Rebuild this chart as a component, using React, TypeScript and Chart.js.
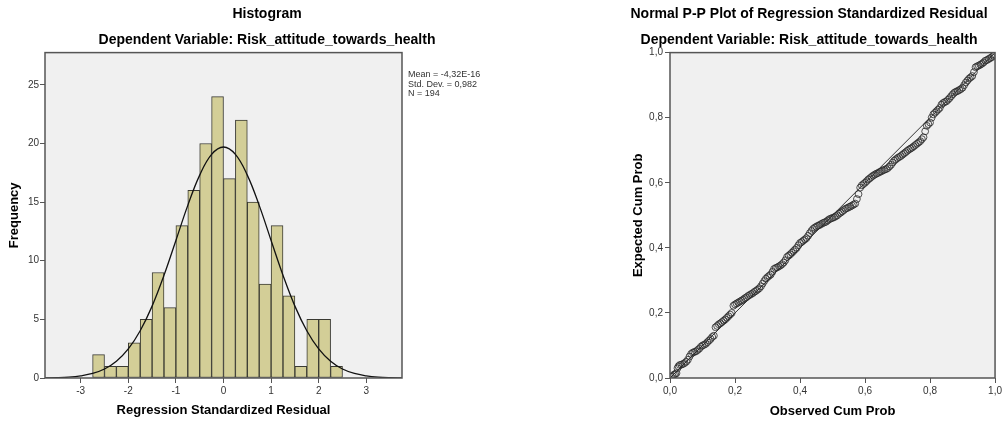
import React, { useEffect, useRef } from 'react';
import { Chart, registerables } from 'chart.js';

Chart.register(...registerables);

// ---------- Histogram data ----------
const binMidpoints = [
  -2.625, -2.375, -2.125, -1.875, -1.625, -1.375, -1.125, -0.875, -0.625, -0.375, -0.125,
  0.125, 0.375, 0.625, 0.875, 1.125, 1.375, 1.625, 1.875, 2.125, 2.375,
];
const binCounts = [2, 1, 1, 3, 5, 9, 6, 13, 16, 20, 24, 17, 22, 15, 8, 13, 7, 1, 5, 5, 1];

// normal curve
const curveX = [
  -3.75, -3.5, -3.25, -3, -2.75, -2.5, -2.25, -2, -1.75, -1.5, -1.25, -1, -0.75, -0.5, -0.25, 0,
  0.25, 0.5, 0.75, 1, 1.25, 1.5, 1.75, 2, 2.25, 2.5, 2.75, 3, 3.25, 3.5, 3.75,
];
const curveY = [
  0.01, 0.03, 0.08, 0.19, 0.39, 0.77, 1.43, 2.48, 4.03, 6.13, 8.76, 11.73, 14.72, 17.3, 19.07, 19.7,
  19.07, 17.3, 14.72, 11.73, 8.76, 6.13, 4.03, 2.48, 1.43, 0.77, 0.39, 0.19, 0.08, 0.03, 0.01,
];
const statsLines = ['Mean = -4,32E-16', 'Std. Dev. = 0,982', 'N = 194'];

const histTitle = 'Histogram';
const ppTitle = 'Normal P-P Plot of Regression Standardized Residual';
const subTitle = 'Dependent Variable: Risk_attitude_towards_health';
const histXTitle = 'Regression Standardized Residual';
const histYTitle = 'Frequency';
const ppXTitle = 'Observed Cum Prob';
const ppYTitle = 'Expected Cum Prob';

// ---------- P-P plot data (observed cum prob, expected cum prob) ----------
const ppObserved = [
  0.003, 0.008, 0.012, 0.016, 0.02, 0.023, 0.026, 0.03, 0.035, 0.04, 0.045, 0.05, 0.055, 0.06, 0.065,
  0.07, 0.075, 0.08, 0.085, 0.09, 0.095, 0.1, 0.105, 0.11, 0.115, 0.12, 0.125, 0.13, 0.135, 0.14,
  0.145, 0.15, 0.155, 0.16, 0.165, 0.17, 0.175, 0.18, 0.185, 0.19, 0.195, 0.2, 0.205, 0.21, 0.215,
  0.22, 0.225, 0.23, 0.235, 0.24, 0.245, 0.25, 0.255, 0.26, 0.265, 0.27, 0.275, 0.28, 0.285, 0.29,
  0.295, 0.3, 0.305, 0.31, 0.315, 0.32, 0.325, 0.33, 0.335, 0.34, 0.345, 0.35, 0.355, 0.36, 0.365,
  0.37, 0.375, 0.38, 0.385, 0.39, 0.395, 0.4, 0.405, 0.41, 0.415, 0.42, 0.425, 0.43, 0.435, 0.44,
  0.445, 0.45, 0.455, 0.46, 0.465, 0.47, 0.475, 0.48, 0.485, 0.49, 0.495, 0.5, 0.505, 0.51, 0.515,
  0.52, 0.525, 0.53, 0.535, 0.54, 0.545, 0.55, 0.555, 0.56, 0.565, 0.57, 0.575, 0.58, 0.585, 0.59,
  0.595, 0.6, 0.605, 0.61, 0.615, 0.62, 0.625, 0.63, 0.635, 0.64, 0.645, 0.65, 0.655, 0.66, 0.665,
  0.67, 0.675, 0.68, 0.685, 0.69, 0.695, 0.7, 0.705, 0.71, 0.715, 0.72, 0.725, 0.73, 0.735, 0.74,
  0.745, 0.75, 0.755, 0.76, 0.765, 0.77, 0.775, 0.78, 0.785, 0.79, 0.795, 0.8, 0.805, 0.81, 0.815,
  0.82, 0.825, 0.83, 0.835, 0.84, 0.845, 0.85, 0.855, 0.86, 0.865, 0.87, 0.875, 0.88, 0.885, 0.89,
  0.895, 0.9, 0.905, 0.91, 0.915, 0.92, 0.925, 0.93, 0.935, 0.94, 0.945, 0.95, 0.955, 0.96, 0.965,
  0.97, 0.975, 0.98, 0.985, 0.99, 0.995, 0.998,
];
const ppExpected = [
  0.004, 0.006, 0.01, 0.012, 0.015, 0.03, 0.036, 0.04, 0.041, 0.043, 0.046, 0.05, 0.056, 0.066, 0.074,
  0.078, 0.08, 0.082, 0.086, 0.09, 0.096, 0.1, 0.102, 0.105, 0.11, 0.115, 0.12, 0.126, 0.13, 0.156,
  0.16, 0.165, 0.168, 0.172, 0.176, 0.18, 0.185, 0.19, 0.195, 0.2, 0.222, 0.226, 0.229, 0.232, 0.235,
  0.238, 0.241, 0.245, 0.248, 0.252, 0.255, 0.258, 0.261, 0.265, 0.268, 0.272, 0.276, 0.282, 0.29, 0.298,
  0.305, 0.31, 0.314, 0.318, 0.326, 0.335, 0.338, 0.34, 0.343, 0.346, 0.35, 0.355, 0.362, 0.372, 0.376,
  0.38, 0.385, 0.39, 0.395, 0.4, 0.408, 0.415, 0.418, 0.422, 0.426, 0.43, 0.437, 0.445, 0.452, 0.458,
  0.462, 0.465, 0.468, 0.47, 0.473, 0.476, 0.478, 0.48, 0.484, 0.488, 0.49, 0.492, 0.494, 0.497, 0.5,
  0.505, 0.508, 0.512, 0.516, 0.52, 0.522, 0.525, 0.527, 0.53, 0.533, 0.536, 0.55, 0.565, 0.585, 0.592,
  0.596, 0.6, 0.605, 0.61, 0.614, 0.618, 0.622, 0.625, 0.628, 0.63, 0.633, 0.635, 0.638, 0.64, 0.642,
  0.645, 0.65, 0.655, 0.662, 0.668, 0.672, 0.676, 0.679, 0.682, 0.686, 0.69, 0.694, 0.698, 0.702, 0.705,
  0.708, 0.712, 0.716, 0.72, 0.724, 0.728, 0.734, 0.74, 0.758, 0.775, 0.78, 0.785, 0.8, 0.81, 0.815,
  0.82, 0.825, 0.83, 0.84, 0.845, 0.848, 0.85, 0.855, 0.86, 0.866, 0.872, 0.877, 0.88, 0.882, 0.885,
  0.888, 0.892, 0.9, 0.908, 0.914, 0.92, 0.924, 0.928, 0.94, 0.955, 0.958, 0.96, 0.963, 0.966, 0.97,
  0.975, 0.977, 0.98, 0.983, 0.986, 0.99, 0.994,
];
const diagonal = [0, 1];

const FONT = "'Liberation Sans', Arial, sans-serif";

const plotFrame = {
  id: 'plotFrame',
  beforeDraw(chart: any) {
    const { ctx, chartArea } = chart;
    const { left, top, right, bottom } = chartArea;
    ctx.save();
    ctx.fillStyle = '#F0F0F0';
    ctx.fillRect(left, top, right - left, bottom - top);
    ctx.restore();
  },
  afterDraw(chart: any) {
    const { ctx, chartArea } = chart;
    const { left, top, right, bottom } = chartArea;
    ctx.save();
    ctx.strokeStyle = '#555555';
    ctx.lineWidth = 1.5;
    ctx.strokeRect(left, top, right - left, bottom - top);
    ctx.restore();
  },
};

const statsPlugin = {
  id: 'statsText',
  afterDraw(chart: any) {
    const { ctx, chartArea } = chart;
    ctx.save();
    ctx.fillStyle = '#333333';
    ctx.font = `9px ${FONT}`;
    ctx.textAlign = 'left';
    ctx.textBaseline = 'middle';
    statsLines.forEach((t, i) => {
      ctx.fillText(t, chartArea.right + 6, 75 + i * 9.5);
    });
    ctx.restore();
  },
};

const tickFont = { family: FONT, size: 10 };
const titleFont = { family: FONT, size: 14, weight: 'bold' as const };
const axisTitleFont = { family: FONT, size: 13, weight: 'bold' as const };

const spacerAxis = (w: number) => ({
  type: 'linear',
  position: 'right',
  display: true,
  ticks: { display: false },
  grid: { display: false, drawTicks: false },
  border: { display: false },
  title: { display: false },
  afterFit: (s: any) => {
    s.width = w;
  },
});

function HistogramChart() {
  const ref = useRef<HTMLCanvasElement>(null);
  useEffect(() => {
    const chart = new Chart(ref.current!, {
      type: 'bar',
      data: {
        datasets: [
          {
            type: 'line',
            data: curveX.map((x, i) => ({ x, y: curveY[i] })),
            borderColor: '#111111',
            borderWidth: 1.3,
            pointRadius: 0,
            tension: 0.4,
            fill: false,
            order: 1,
          } as any,
          {
            type: 'bar',
            data: binMidpoints.map((x, i) => ({ x, y: binCounts[i] })),
            backgroundColor: '#D3CE97',
            borderColor: '#3a3a32',
            borderWidth: 1,
            borderSkipped: false,
            barPercentage: 1,
            categoryPercentage: 1,
            order: 2,
          } as any,
        ],
      },
      options: {
        responsive: false,
        animation: false,
        devicePixelRatio: 1,
        layout: { padding: 0 },
        plugins: {
          legend: { display: false },
          tooltip: { enabled: false },
          title: {
            display: true,
            text: histTitle,
            color: '#000',
            font: titleFont,
            padding: { top: 5.6, bottom: 9.8 },
          },
          subtitle: {
            display: true,
            text: subTitle,
            color: '#000',
            font: titleFont,
            padding: { top: 0, bottom: 3.6 },
          },
        },
        scales: {
          x: {
            type: 'linear',
            min: -3.75,
            max: 3.75,
            offset: false,
            ticks: { stepSize: 1, includeBounds: false, font: tickFont, color: '#333', padding: 2 },
            grid: { display: true, offset: false, drawOnChartArea: false, drawTicks: true, tickLength: 5, color: '#555' },
            border: { display: false },
            title: { display: true, text: histXTitle, color: '#000', font: axisTitleFont, padding: { top: 0, bottom: 5.2 } },
            afterFit: (s: any) => {
              s.height = 45;
            },
          },
          y: {
            type: 'linear',
            min: 0,
            max: 27.75,
            ticks: { stepSize: 5, includeBounds: false, font: tickFont, color: '#333', padding: 1 },
            grid: { display: true, drawOnChartArea: false, drawTicks: true, tickLength: 5, color: '#555' },
            border: { display: false },
            title: { display: true, text: histYTitle, color: '#000', font: axisTitleFont, padding: { top: 6.2, bottom: 0 } },
            afterFit: (s: any) => {
              s.width = 45;
            },
          },
          spacer: spacerAxis(132),
        },
      } as any,
      plugins: [plotFrame, statsPlugin],
    });
    return () => chart.destroy();
  }, []);
  return (
    <canvas
      ref={ref}
      width={534}
      height={423}
      style={{ position: 'absolute', left: 0, top: 0, width: 534, height: 423 }}
    />
  );
}

function PPChart() {
  const ref = useRef<HTMLCanvasElement>(null);
  useEffect(() => {
    const fmt = (v: any) => Number(v).toFixed(1).replace('.', ',');
    const chart = new Chart(ref.current!, {
      type: 'scatter',
      data: {
        datasets: [
          {
            type: 'line',
            data: diagonal.map((v) => ({ x: v, y: v })),
            borderColor: '#333333',
            borderWidth: 1,
            pointRadius: 0,
            fill: false,
            order: 2,
          } as any,
          {
            type: 'scatter',
            data: ppObserved.map((x, i) => ({ x, y: ppExpected[i] })),
            pointStyle: 'circle',
            pointRadius: 3.4,
            borderColor: 'rgba(40,40,40,0.8)',
            backgroundColor: 'rgba(0,0,0,0)',
            borderWidth: 1,
            order: 1,
          } as any,
        ],
      },
      options: {
        responsive: false,
        animation: false,
        devicePixelRatio: 1,
        layout: { padding: 0 },
        plugins: {
          legend: { display: false },
          tooltip: { enabled: false },
          title: {
            display: true,
            text: ppTitle,
            color: '#000',
            font: titleFont,
            padding: { top: 5.6, bottom: 9.8 },
          },
          subtitle: {
            display: true,
            text: subTitle,
            color: '#000',
            font: titleFont,
            padding: { top: 0, bottom: 3.6 },
          },
        },
        scales: {
          x: {
            type: 'linear',
            min: 0,
            max: 1,
            ticks: { stepSize: 0.2, includeBounds: false, font: tickFont, color: '#333', padding: 2, callback: fmt },
            grid: { display: true, drawOnChartArea: false, drawTicks: true, tickLength: 5, color: '#555' },
            border: { display: false },
            title: { display: true, text: ppXTitle, color: '#000', font: axisTitleFont, padding: { top: 0, bottom: 4.2 } },
            afterFit: (s: any) => {
              s.height = 45;
            },
          },
          y: {
            type: 'linear',
            min: 0,
            max: 1,
            ticks: { stepSize: 0.2, includeBounds: false, font: tickFont, color: '#333', padding: 2, callback: fmt },
            grid: { display: true, drawOnChartArea: false, drawTicks: true, tickLength: 5, color: '#555' },
            border: { display: false },
            title: { display: true, text: ppYTitle, color: '#000', font: axisTitleFont, padding: { top: 16.2, bottom: 0 } },
            afterFit: (s: any) => {
              s.width = 56;
            },
          },
          spacer: spacerAxis(8),
        },
      } as any,
      plugins: [plotFrame],
    });
    return () => chart.destroy();
  }, []);
  return (
    <canvas
      ref={ref}
      width={390}
      height={423}
      style={{ position: 'absolute', left: 614, top: 0, width: 390, height: 423 }}
    />
  );
}

export default function App() {
  return (
    <div
      style={{
        position: 'fixed',
        left: 0,
        top: 0,
        width: 1004,
        height: 423,
        background: '#ffffff',
        overflow: 'hidden',
      }}
    >
      <HistogramChart />
      <PPChart />
    </div>
  );
}
